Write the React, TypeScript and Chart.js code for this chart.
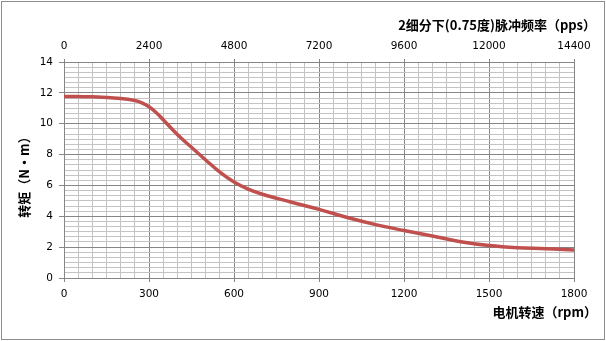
import React, { useEffect, useRef } from "react";
import { Chart, registerables } from "chart.js";

Chart.register(...registerables);

// Motor speed (rpm) and torque (N·m)
const rpm = [0, 100, 200, 250, 275, 300, 325, 350, 400, 450, 500, 550, 600, 650, 700, 800, 900, 1000, 1100, 1200, 1300, 1400, 1500, 1600, 1700, 1800];
const torque = [11.77, 11.74, 11.63, 11.5, 11.35, 11.1, 10.73, 10.26, 9.3, 8.47, 7.65, 6.86, 6.22, 5.76, 5.43, 4.93, 4.45, 3.92, 3.46, 3.08, 2.72, 2.35, 2.1, 1.96, 1.9, 1.81];

const bottomTickLabels = [0, 300, 600, 900, 1200, 1500, 1800];
const topTickLabels = [0, 2400, 4800, 7200, 9600, 12000, 14400];
const yTickLabels = [0, 2, 4, 6, 8, 10, 12, 14];

const topTitle = "2细分下(0.75度)脉冲频率（pps）";
const bottomTitle = "电机转速（rpm）";
const yTitle = "转矩（N·m）";

const MAJOR = "#868686";
const MINOR = "#c3c3c3";
const TICK_FONT = { family: "'DejaVu Sans', sans-serif", size: 10.5 };
const TITLE_FONT = "bold 13px 'Noto Sans CJK SC', sans-serif";

const isMajorX = (v: number) => bottomTickLabels.some((t) => Math.abs(t - v) < 1e-6);
const isMajorY = (v: number) => yTickLabels.some((t) => Math.abs(t - v) < 1e-6);

const decorPlugin = {
  id: "decor",
  afterDraw(chart: any) {
    const ctx = chart.ctx;
    ctx.save();
    ctx.strokeStyle = "#8c8c8c";
    ctx.lineWidth = 1;
    ctx.strokeRect(1.5, 1.5, 603, 338);
    ctx.fillStyle = "#000";
    ctx.font = TITLE_FONT;
    ctx.textBaseline = "middle";
    ctx.textAlign = "right";
    ctx.fillText(topTitle, 596, 25);
    ctx.fillText(bottomTitle, 597, 312);
    ctx.translate(24, 174);
    ctx.rotate(-Math.PI / 2);
    ctx.textAlign = "center";
    ctx.fillText(yTitle, 0, 0);
    ctx.restore();
  },
};

export default function App() {
  const ref = useRef<HTMLCanvasElement | null>(null);

  useEffect(() => {
    if (!ref.current) return;
    const chart = new Chart(ref.current, {
      type: "line",
      data: {
        datasets: [
          {
            data: rpm.map((r, i) => ({ x: r, y: torque[i] })),
            borderColor: "#c0504d",
            borderWidth: 3.5,
            pointRadius: 0,
            fill: false,
            tension: 0.4,
            xAxisID: "x",
            yAxisID: "y",
          },
          {
            data: [],
            xAxisID: "x2",
            yAxisID: "y",
          },
        ],
      },
      options: {
        animation: false,
        responsive: false,
        layout: { padding: { left: 0, right: 32, top: 0, bottom: 0 } },
        plugins: { legend: { display: false }, tooltip: { enabled: false } },
        scales: {
          x: {
            type: "linear",
            position: "bottom",
            min: 0,
            max: 1800,
            afterBuildTicks: (scale: any) => {
              const t = [];
              for (let v = 0; v <= 1800; v += 50) t.push({ value: v });
              scale.ticks = t;
            },
            afterFit: (scale: any) => {
              scale.height = 63;
            },
            ticks: {
              autoSkip: false,
              maxRotation: 0,
              color: "#000",
              font: TICK_FONT,
              padding: 6,
              callback: (v: any) => (isMajorX(v) ? String(v) : ""),
            },
            grid: {
              color: (c: any) => (c.tick && isMajorX(c.tick.value) ? MAJOR : MINOR),
              tickColor: (c: any) => (c.tick && isMajorX(c.tick.value) ? MAJOR : "rgba(0,0,0,0)"),
              tickLength: 4,
            },
            border: { color: MAJOR },
          },
          x2: {
            type: "linear",
            position: "top",
            min: 0,
            max: 14400,
            afterBuildTicks: (scale: any) => {
              scale.ticks = topTickLabels.map((v) => ({ value: v }));
            },
            afterFit: (scale: any) => {
              scale.height = 62;
            },
            ticks: {
              autoSkip: false,
              maxRotation: 0,
              color: "#000",
              font: TICK_FONT,
              padding: 6,
              callback: (v: any) => String(v),
            },
            grid: {
              drawOnChartArea: false,
              color: MAJOR,
              tickLength: 3,
            },
            border: { display: false },
          },
          y: {
            type: "linear",
            position: "left",
            min: 0,
            max: 14,
            afterBuildTicks: (scale: any) => {
              const t = [];
              for (let i = 0; i <= 42; i++) t.push({ value: i / 3 });
              scale.ticks = t;
            },
            afterFit: (scale: any) => {
              scale.width = 64;
            },
            ticks: {
              autoSkip: false,
              color: "#000",
              font: TICK_FONT,
              padding: 6,
              callback: (v: any) => (isMajorY(v) ? String(Math.round(v)) : ""),
            },
            grid: {
              color: (c: any) => (c.tick && isMajorY(c.tick.value) ? MAJOR : MINOR),
              tickColor: (c: any) => (c.tick && isMajorY(c.tick.value) ? MAJOR : "rgba(0,0,0,0)"),
              tickLength: 5,
            },
            border: { color: MAJOR },
          },
        },
      },
      plugins: [decorPlugin],
    } as any);
    return () => chart.destroy();
  }, []);

  return (
    <div style={{ position: "absolute", left: 0, top: 0, width: 606, height: 341, background: "#fff" }}>
      <canvas ref={ref} width={606} height={341} style={{ display: "block" }} />
    </div>
  );
}
